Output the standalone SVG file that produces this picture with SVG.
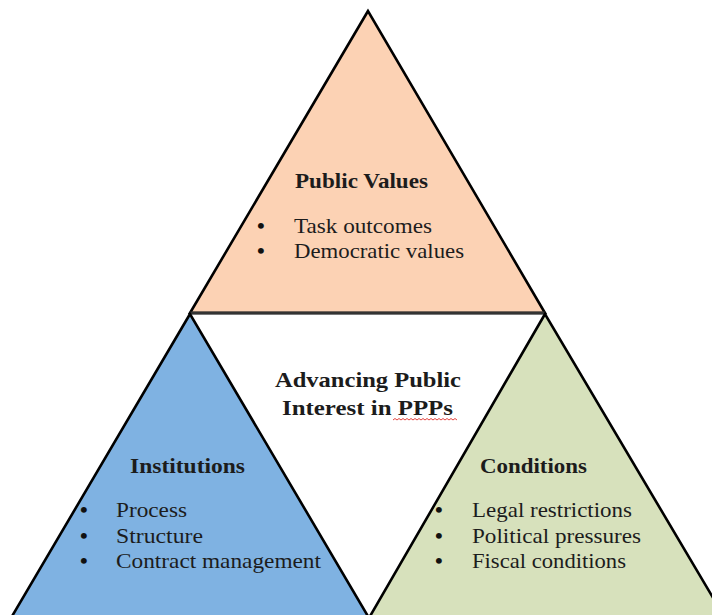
<svg xmlns="http://www.w3.org/2000/svg" width="712" height="615" viewBox="0 0 712 615">
<style>
.tri{stroke:#000;stroke-width:2.6;stroke-linejoin:miter}
.t{font-family:"Liberation Serif","Times New Roman",serif;font-size:21px;fill:#1c1c1c}
.b{font-weight:bold}
.bl{font-family:"Liberation Serif","Times New Roman",serif;font-size:22px;font-weight:bold;fill:#111}
</style>
<rect width="712" height="615" fill="#fff"/>
<g id="center">
<polygon points="190,313 545,313 369,615" fill="#fff"/>
</g>
<g id="public-values">
<polygon class="tri" points="368,11 190,313 545,313" fill="#FCD2B4"/>
<line x1="190" y1="313" x2="545" y2="313" stroke="#333" stroke-width="3"/>
<text class="t b" x="295" y="188" textLength="133" lengthAdjust="spacingAndGlyphs">Public Values</text>
<text class="bl" x="257" y="233">•</text>
<text class="bl" x="257" y="258">•</text>
<text class="t" x="294" y="233" textLength="138" lengthAdjust="spacingAndGlyphs">Task outcomes</text>
<text class="t" x="294" y="258" textLength="170" lengthAdjust="spacingAndGlyphs">Democratic values</text>
</g>
<g id="institutions">
<polygon class="tri" points="190,314 11,618 369,618" fill="#7FB2E2"/>
<text class="t b" x="130" y="473" textLength="115" lengthAdjust="spacingAndGlyphs">Institutions</text>
<text class="bl" x="80" y="517">•</text>
<text class="bl" x="80" y="543">•</text>
<text class="bl" x="80" y="568">•</text>
<text class="t" x="116" y="517" textLength="71" lengthAdjust="spacingAndGlyphs">Process</text>
<text class="t" x="116" y="543" textLength="87" lengthAdjust="spacingAndGlyphs">Structure</text>
<text class="t" x="116" y="568" textLength="205" lengthAdjust="spacingAndGlyphs">Contract management</text>
</g>
<g id="conditions">
<polygon class="tri" points="545,314 369,618 725,618" fill="#D7E1BC"/>
<text class="t b" x="480" y="473" textLength="107" lengthAdjust="spacingAndGlyphs">Conditions</text>
<text class="bl" x="435" y="517">•</text>
<text class="bl" x="435" y="543">•</text>
<text class="bl" x="435" y="568">•</text>
<text class="t" x="472" y="517" textLength="160" lengthAdjust="spacingAndGlyphs">Legal restrictions</text>
<text class="t" x="472" y="543" textLength="169" lengthAdjust="spacingAndGlyphs">Political pressures</text>
<text class="t" x="472" y="568" textLength="154" lengthAdjust="spacingAndGlyphs">Fiscal conditions</text>
</g>
<g id="center-label">
<text class="t b" x="275" y="387" textLength="186" lengthAdjust="spacingAndGlyphs">Advancing Public</text>
<text class="t b" x="282" y="415" textLength="171" lengthAdjust="spacingAndGlyphs">Interest in PPPs</text>
<path d="M393,420 l2,-1.5 l2,1.5 l2,-1.5 l2,1.5 l2,-1.5 l2,1.5 l2,-1.5 l2,1.5 l2,-1.5 l2,1.5 l2,-1.5 l2,1.5 l2,-1.5 l2,1.5 l2,-1.5 l2,1.5 l2,-1.5 l2,1.5 l2,-1.5 l2,1.5 l2,-1.5 l2,1.5 l2,-1.5 l2,1.5 l2,-1.5 l2,1.5 l2,-1.5 l2,1.5 l2,-1.5 l2,1.5 l2,-1.5 l2,1.5" fill="none" stroke="#e0302a" stroke-width="0.9"/>
</g>
<g id="connectors"/>
</svg>
